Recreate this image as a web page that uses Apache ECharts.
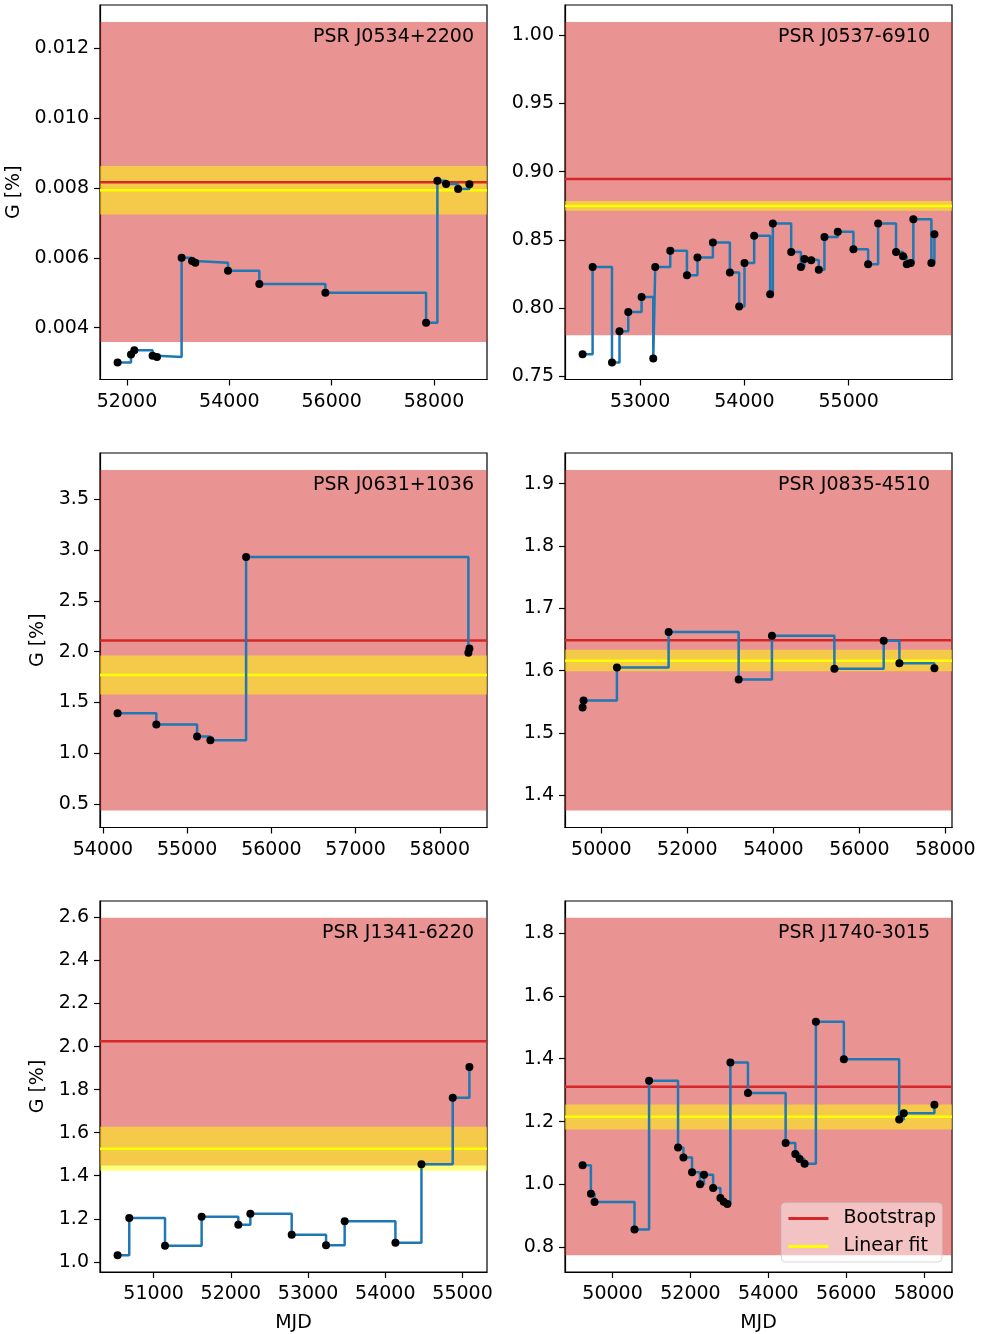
<!DOCTYPE html>
<html><head><meta charset="utf-8">
<script src="https://cdn.jsdelivr.net/npm/echarts@6/dist/echarts.min.js"></script>
<style>html,body{margin:0;padding:0;background:#fff}#c{width:982px;height:1334px}</style>
</head><body><div id="c"></div>
<script>
// ---------------- data ----------------
const names = ['PSR J0534+2200', 'PSR J0537-6910', 'PSR J0631+1036', 'PSR J0835-4510', 'PSR J1341-6220', 'PSR J1740-3015'];

const j0534MJD = [51816, 52078, 52143, 52500, 52586, 53067, 53271, 53335, 53974, 54586, 55877, 57845, 58066, 58236, 58471, 58692];
const j0534G   = [0.00300, 0.00323, 0.00335, 0.00319, 0.00316, 0.00600, 0.00591, 0.00586, 0.00563, 0.00525, 0.00500, 0.00414, 0.00821, 0.00812, 0.00797, 0.00811];

const j0537MJD = [52447, 52543, 52729, 52801, 52885, 53013, 53125, 53144, 53288, 53448, 53549, 53697, 53860, 53949, 54000, 54093, 54246, 54272, 54448, 54541, 54575, 54640, 54713, 54767, 54895, 55045, 55186, 55282, 55454, 55521, 55557, 55595, 55620, 55793, 55822];
const j0537G   = [0.766, 0.830, 0.760, 0.783, 0.797, 0.808, 0.763, 0.830, 0.842, 0.824, 0.837, 0.848, 0.826, 0.801, 0.833, 0.853, 0.810, 0.862, 0.841, 0.830, 0.836, 0.835, 0.828, 0.852, 0.856, 0.843, 0.832, 0.862, 0.841, 0.838, 0.832, 0.833, 0.865, 0.833, 0.854];

const j0631MJD = [54174, 54634, 55118, 55276, 55700, 58340, 58352];
const j0631G   = [1.393, 1.282, 1.164, 1.127, 2.932, 1.990, 2.030];

const j0835MJD = [49565, 49588, 50363, 51565, 53193, 53967, 55419, 56565, 56930, 57744];
const j0835G   = [1.541, 1.552, 1.605, 1.662, 1.586, 1.656, 1.603, 1.648, 1.612, 1.604];

const j1341MJD = [50534, 50685, 51148, 51622, 52097, 52253, 52788, 53233, 53474, 54131, 54468, 54873, 55089];
const j1341G   = [1.031, 1.204, 1.075, 1.209, 1.172, 1.223, 1.126, 1.077, 1.189, 1.089, 1.453, 1.762, 1.905];

const j1740MJD = [49231, 49444, 49538, 50564, 50938, 51682, 51820, 52041, 52246, 52349, 52582, 52769, 52854, 52949, 53026, 53477, 54444, 54692, 54803, 54931, 55221, 55939, 57359, 57477, 58264];
const j1740G   = [1.061, 0.971, 0.944, 0.857, 1.330, 1.118, 1.086, 1.039, 1.001, 1.031, 0.989, 0.957, 0.945, 0.938, 1.388, 1.291, 1.132, 1.097, 1.081, 1.066, 1.518, 1.398, 1.207, 1.227, 1.254];

// bootstrap: [low, high, value] ; linear fit: [low, high, value]
const bootstrap = [
  [0.00359, 0.01276, 0.00817],
  [0.7799, 1.0098, 0.8947],
  [0.435, 3.79, 2.111],
  [1.3756, 1.922, 1.6486],
  [1.448, 2.598, 2.0244],
  [0.7754, 1.848, 1.311]
];
const linearFit = [
  [0.007245, 0.00863, 0.00794],
  [0.8713, 0.8785, 0.8749],
  [1.577, 1.961, 1.771],
  [1.599, 1.6337, 1.616],
  [1.4226, 1.627, 1.525],
  [1.1748, 1.2544, 1.2157]
];

const xTicks = [
  [52000, 54000, 56000, 58000],
  [53000, 54000, 55000],
  [54000, 55000, 56000, 57000, 58000],
  [50000, 52000, 54000, 56000, 58000],
  [51000, 52000, 53000, 54000, 55000],
  [50000, 52000, 54000, 56000, 58000]
];
const yTicks = [
  [0.004, 0.006, 0.008, 0.010, 0.012],
  [0.75, 0.80, 0.85, 0.90, 0.95, 1.00],
  [0.5, 1.0, 1.5, 2.0, 2.5, 3.0, 3.5],
  [1.4, 1.5, 1.6, 1.7, 1.8, 1.9],
  [1.0, 1.2, 1.4, 1.6, 1.8, 2.0, 2.2, 2.4, 2.6],
  [0.8, 1.0, 1.2, 1.4, 1.6, 1.8]
];
const yDecimals = [3, 2, 1, 1, 1, 1];

const mjds = [j0534MJD, j0537MJD, j0631MJD, j0835MJD, j1341MJD, j1740MJD];
const gs = [j0534G, j0537G, j0631G, j0835G, j1341G, j1740G];

// ---------------- layout / style ----------------
const FONT = 'DejaVu Sans';
const FS = 19;
const colLeft = [100, 565];
const rowTop = [5, 453, 901];
const titleRight = [474, 930];
const W = 387, H = 374.5;
const RED = '#d62728', YEL = '#ffff00', BLUE = '#1f77b4';

const grids = [], xAxes = [], yAxes = [], series = [], titles = [];
for (let i = 0; i < 6; i++) {
  const col = i % 2, row = Math.floor(i / 2);
  const left = colLeft[col], top = rowTop[row];
  grids.push({left: left, top: top, width: W, height: H, show: true, borderColor: '#000', borderWidth: 1.2, backgroundColor: 'transparent', containLabel: false});

  const xs = mjds[i], ys = gs[i];
  const xmin = Math.min(...xs), xmax = Math.max(...xs);
  const xp = 0.05 * (xmax - xmin);
  const x0 = xmin - xp, x1 = xmax + xp;
  const ylo = Math.min(...ys, bootstrap[i][0], linearFit[i][0]);
  const yhi = Math.max(...ys, bootstrap[i][1], linearFit[i][1]);
  const yp = 0.05 * (yhi - ylo);

  const isBottom = row === 2;
  xAxes.push({
    gridIndex: i, type: 'value', min: x0, max: x1,
    axisLine: {show: true, onZero: false, lineStyle: {color: '#000', width: 1.2}},
    axisTick: {show: true, inside: false, length: 6, lineStyle: {color: '#000', width: 1.2}, customValues: xTicks[i]},
    axisLabel: {customValues: xTicks[i], formatter: v => String(Math.round(v)), color: '#000', fontSize: FS, fontFamily: FONT, margin: 13},
    splitLine: {show: false},
    name: isBottom ? 'MJD' : '', nameLocation: 'middle', nameGap: 42,
    nameTextStyle: {color: '#000', fontSize: FS, fontFamily: FONT}
  });
  const dec = yDecimals[i];
  yAxes.push({
    gridIndex: i, type: 'value', min: ylo - yp, max: yhi + yp,
    axisLine: {show: true, onZero: false, lineStyle: {color: '#000', width: 1.2}},
    axisTick: {show: true, inside: false, length: 6, lineStyle: {color: '#000', width: 1.2}, customValues: yTicks[i]},
    axisLabel: {customValues: yTicks[i], formatter: v => v.toFixed(dec), color: '#000', fontSize: FS, fontFamily: FONT, margin: 11},
    splitLine: {show: false},
    name: col === 0 ? 'G [%]' : '', nameLocation: 'middle', nameRotate: 90,
    nameGap: row === 0 ? 76 : 52,
    nameTextStyle: {color: '#000', fontSize: FS, fontFamily: FONT}
  });

  titles.push({
    text: names[i], right: 982 - titleRight[col], top: top + 23, padding: 0,
    textStyle: {color: '#000', fontSize: FS, fontWeight: 'normal', fontFamily: FONT}
  });

  // bands
  series.push({
    type: 'line', name: 'bands', xAxisIndex: i, yAxisIndex: i, data: [], z: 1, silent: true,
    markArea: {
      silent: true,
      data: [
        [{yAxis: bootstrap[i][0], itemStyle: {color: 'rgba(214,39,40,0.5)'}}, {yAxis: bootstrap[i][1]}],
        [{yAxis: linearFit[i][0], itemStyle: {color: 'rgba(255,255,0,0.5)'}}, {yAxis: linearFit[i][1]}]
      ]
    }
  });
  // horizontal lines spanning the axis extent
  series.push({
    type: 'line', name: 'Bootstrap', xAxisIndex: i, yAxisIndex: i, z: 2, silent: true,
    data: [[x0, bootstrap[i][2]], [x1, bootstrap[i][2]]], showSymbol: false,
    itemStyle: {color: RED}, lineStyle: {color: RED, width: 2.5}
  });
  series.push({
    type: 'line', name: 'Linear fit', xAxisIndex: i, yAxisIndex: i, z: 2, silent: true,
    data: [[x0, linearFit[i][2]], [x1, linearFit[i][2]]], showSymbol: false,
    itemStyle: {color: YEL}, lineStyle: {color: YEL, width: 2.5}
  });
  const pts = xs.map((x, k) => [x, ys[k]]);
  series.push({
    type: 'line', name: 'G', xAxisIndex: i, yAxisIndex: i, data: pts, step: 'end',
    showSymbol: false, z: 3, lineStyle: {color: BLUE, width: 2.5}, itemStyle: {color: BLUE}, silent: true
  });
  series.push({
    type: 'scatter', name: 'pts', xAxisIndex: i, yAxisIndex: i, data: pts,
    symbol: 'circle', symbolSize: 8, z: 4, itemStyle: {color: '#000', opacity: 1}, silent: true
  });
}

const chart = echarts.init(document.getElementById('c'), null, {renderer: 'canvas'});
chart.setOption({
  animation: false,
  backgroundColor: '#fff',
  textStyle: {fontFamily: FONT},
  title: titles,
  grid: grids,
  xAxis: xAxes,
  yAxis: yAxes,
  legend: {
    data: [{name: 'Bootstrap', icon: 'rect'}, {name: 'Linear fit', icon: 'rect'}],
    orient: 'vertical', right: 40, top: 1203,
    itemWidth: 40, itemHeight: 3, itemGap: 9,
    padding: [6, 6, 6, 7],
    backgroundColor: 'rgba(255,255,255,0.45)', borderColor: 'rgba(204,204,204,0.8)', borderWidth: 1, borderRadius: 4,
    textStyle: {color: '#000', fontSize: FS, fontFamily: FONT, padding: [0, 0, 0, 10]},
    selectedMode: false
  },
  series: series
});
</script>
</body></html>
